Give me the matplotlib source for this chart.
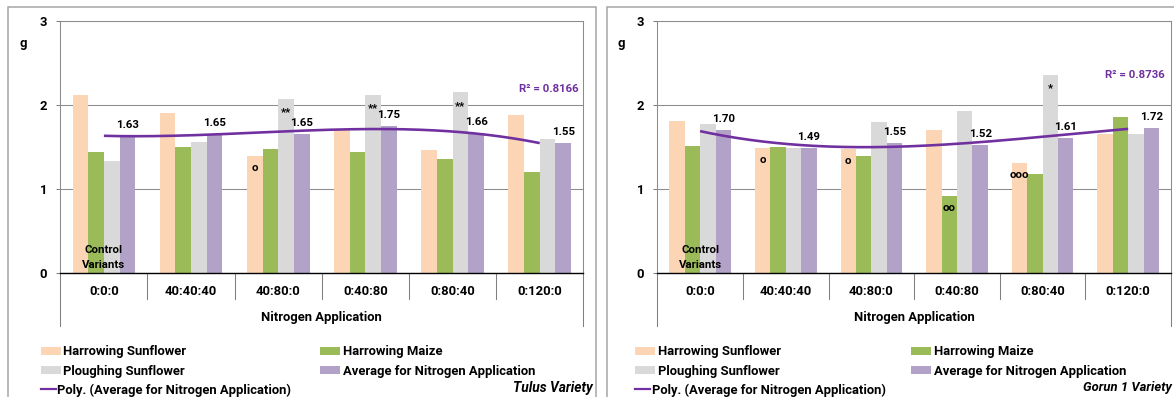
import numpy as np
import matplotlib
matplotlib.use("Agg")
import matplotlib.pyplot as plt
import matplotlib.transforms as mtransforms
from matplotlib.patches import Patch, Rectangle
from matplotlib.lines import Line2D

# ---------------- data ----------------
categories = ["0:0:0", "40:40:40", "40:80:0", "0:40:80", "0:80:40", "0:120:0"]
series_names = ["Harrowing Sunflower", "Harrowing Maize", "Ploughing Sunflower",
                "Average for Nitrogen Application"]
trend_name = "Poly. (Average for Nitrogen Application)"
x_title = "Nitrogen Application"
y_title = "g"
control_text = ["Control", "Variants"]
y_ticks = [0, 1, 2, 3]

tulus_harrowing_sunflower = [2.12, 1.90, 1.39, 1.71, 1.46, 1.88]
tulus_harrowing_maize = [1.44, 1.50, 1.48, 1.44, 1.36, 1.20]
tulus_ploughing_sunflower = [1.33, 1.56, 2.07, 2.12, 2.15, 1.59]
tulus_average = [1.63, 1.65, 1.65, 1.75, 1.66, 1.55]
tulus_r2 = "R² = 0.8166"
tulus_marks = [(2, 0, "o"), (2, 2, "**"), (3, 2, "**"), (4, 2, "**")]
tulus_name = "Tulus Variety"

gorun_harrowing_sunflower = [1.81, 1.49, 1.47, 1.70, 1.31, 1.65]
gorun_harrowing_maize = [1.51, 1.50, 1.39, 0.92, 1.18, 1.85]
gorun_ploughing_sunflower = [1.77, 1.49, 1.80, 1.93, 2.36, 1.65]
gorun_average = [1.70, 1.49, 1.55, 1.52, 1.61, 1.72]
gorun_r2 = "R² = 0.8736"
gorun_marks = [(1, 0, "o"), (2, 0, "o"), (3, 1, "oo"), (4, 0, "ooo"), (4, 2, "*")]
gorun_name = "Gorun 1 Variety"

# ---------------- style ----------------
C_HS, C_HM, C_PS, C_AVG = "#FCD5B5", "#9BBB59", "#D9D9D9", "#B3A2C7"
C_TREND = "#7030A0"
C_GRID = "#8c8c8c"
C_FRAME = "#a6a6a6"

plt.rcParams["font.family"] = ["Roboto", "DejaVu Sans"]
plt.rcParams["font.weight"] = "bold"
FS = 9.4
FS_SMALL = 8.2

W, H = 1174, 397
fig = plt.figure(figsize=(W / 100, H / 100), dpi=100)


def fx(p):
    return p / W


def fy(p):
    return 1 - p / H


def pt(p):
    return p * 0.72


TOP, ZERO = 21.0, 272.7


def panel(left, right, vals, marks, r2, r2_xy, g_xy, variety, var_xy, var_ha, var_fs,
          leg_x1, leg_x2, frame):
    ax = fig.add_axes([fx(left), fy(ZERO), (right - left) / W, (ZERO - TOP) / H])
    x = np.arange(len(categories))
    bw = 0.18
    cols = [C_HS, C_HM, C_PS, C_AVG]
    for i, (v, c) in enumerate(zip(vals, cols)):
        ax.bar(x + (i - 1.5) * bw, v, bw, color=c, linewidth=0, zorder=2)
    avg = vals[3]
    coef = np.polyfit(x, avg, 3)
    xs = np.linspace(x[0], x[-1], 200)
    ax.plot(xs, np.polyval(coef, xs), color=C_TREND, lw=pt(2.6), zorder=4,
            solid_capstyle="butt")
    for xi, v in zip(x, avg):
        ax.annotate(f"{v:.2f}", (xi + 1.5 * bw, v), xytext=(0, pt(11)),
                    textcoords="offset points", ha="center", va="center",
                    fontsize=FS_SMALL, zorder=5)
    for ci, si, t in marks:
        v = vals[si][ci]
        off = -pt(16.5) if "*" in t else -pt(15)
        ax.annotate(t, (ci + (si - 1.5) * bw, v), xytext=(0, off),
                    textcoords="offset points", ha="center", va="baseline",
                    fontsize=FS_SMALL, zorder=5)
    ax.text(0, (ZERO - 250) / 83.9, control_text[0], ha="center", va="center",
            fontsize=FS_SMALL, zorder=5)
    ax.text(0, (ZERO - 265) / 83.9, control_text[1], ha="center", va="center",
            fontsize=FS_SMALL, zorder=5)

    ax.set_xlim(-0.5, len(categories) - 0.5)
    ax.set_ylim(0, 3)
    ax.set_yticks(y_ticks)
    ax.set_xticks(x, categories)
    ax.tick_params(axis="x", length=0, pad=9.0, labelsize=FS)
    ax.tick_params(axis="y", length=3, width=0.75, color="#7f7f7f", pad=6.5, labelsize=FS)
    ax.set_axisbelow(True)
    ax.yaxis.grid(True, color=C_GRID, lw=0.75)
    for s in ["top", "left", "right"]:
        ax.spines[s].set_color("#8c8c8c")
        ax.spines[s].set_linewidth(0.75)
    ax.spines["bottom"].set_color("black")
    ax.spines["bottom"].set_linewidth(1.0)
    ax.spines["bottom"].set_zorder(6)

    hpx = ZERO - TOP
    trans = mtransforms.blended_transform_factory(ax.transData, ax.transAxes)
    for b in np.arange(0.5, len(categories) - 1, 1.0):
        ax.plot([b, b], [0, -(299 - ZERO) / hpx], transform=trans, clip_on=False,
                color="#7f7f7f", lw=0.75)
    for b in [-0.5, len(categories) - 0.5]:
        ax.plot([b, b], [0, -(326 - ZERO) / hpx], transform=trans, clip_on=False,
                color="#7f7f7f", lw=0.75)
    ax.text(0.5, -(320.7 - ZERO) / hpx, x_title, transform=ax.transAxes,
            ha="center", va="baseline", fontsize=FS)

    fig.text(fx(g_xy[0]), fy(g_xy[1]), y_title, ha="center", va="center", fontsize=FS)
    fig.text(fx(r2_xy[0]), fy(r2_xy[1]), r2, ha="center", va="center",
             fontsize=FS_SMALL, color=C_TREND)
    fig.text(fx(var_xy[0]), fy(var_xy[1]), variety, ha=var_ha, va="center",
             fontsize=var_fs, style="italic")

    # legend rows (Excel style: 2 columns, trendline on third row)
    fs_px = FS / 0.72
    common = dict(frameon=False, borderpad=0, borderaxespad=0, fontsize=FS,
                  loc="center left", bbox_transform=fig.transFigure)
    patch_kw = dict(handlelength=20 / fs_px, handleheight=7.5 / fs_px,
                    handletextpad=2.6 / fs_px)
    rows = [(leg_x1, 351.7, Patch(facecolor=C_HS, lw=0), series_names[0]),
            (leg_x1, 371.0, Patch(facecolor=C_PS, lw=0), series_names[2]),
            (leg_x2, 351.7, Patch(facecolor=C_HM, lw=0), series_names[1]),
            (leg_x2, 371.0, Patch(facecolor=C_AVG, lw=0), series_names[3])]
    for lx, ly, h, lab in rows:
        fig.legend([h], [lab], bbox_to_anchor=(fx(lx), fy(ly)), **common, **patch_kw)
    fig.legend([Line2D([], [], color=C_TREND, lw=pt(2.2))], [trend_name],
               bbox_to_anchor=(fx(leg_x1), fy(390)), handlelength=15 / fs_px,
               handletextpad=1.5 / fs_px, **common)

    fig.add_artist(Rectangle((fx(frame[0]), fy(frame[3])), (frame[2] - frame[0]) / W,
                             (frame[3] - frame[1]) / H, transform=fig.transFigure,
                             fill=False, edgecolor=C_FRAME, lw=1.1))
    return ax


panel(60.3, 583.3,
      [tulus_harrowing_sunflower, tulus_harrowing_maize, tulus_ploughing_sunflower,
       tulus_average], tulus_marks, tulus_r2, (549, 89), (23.5, 44),
      tulus_name, (593, 388), "right", FS + 0.5, 40.7, 320, (8.3, 7.3, 595.5, 402))

panel(657.3, 1171.0,
      [gorun_harrowing_sunflower, gorun_harrowing_maize, gorun_ploughing_sunflower,
       gorun_average], gorun_marks, gorun_r2, (1135, 75), (621, 44),
      gorun_name, (1172, 388), "right", FS, 635, 911, (606.7, 7.3, 1185, 402))

fig.savefig("out.png", dpi=100)
